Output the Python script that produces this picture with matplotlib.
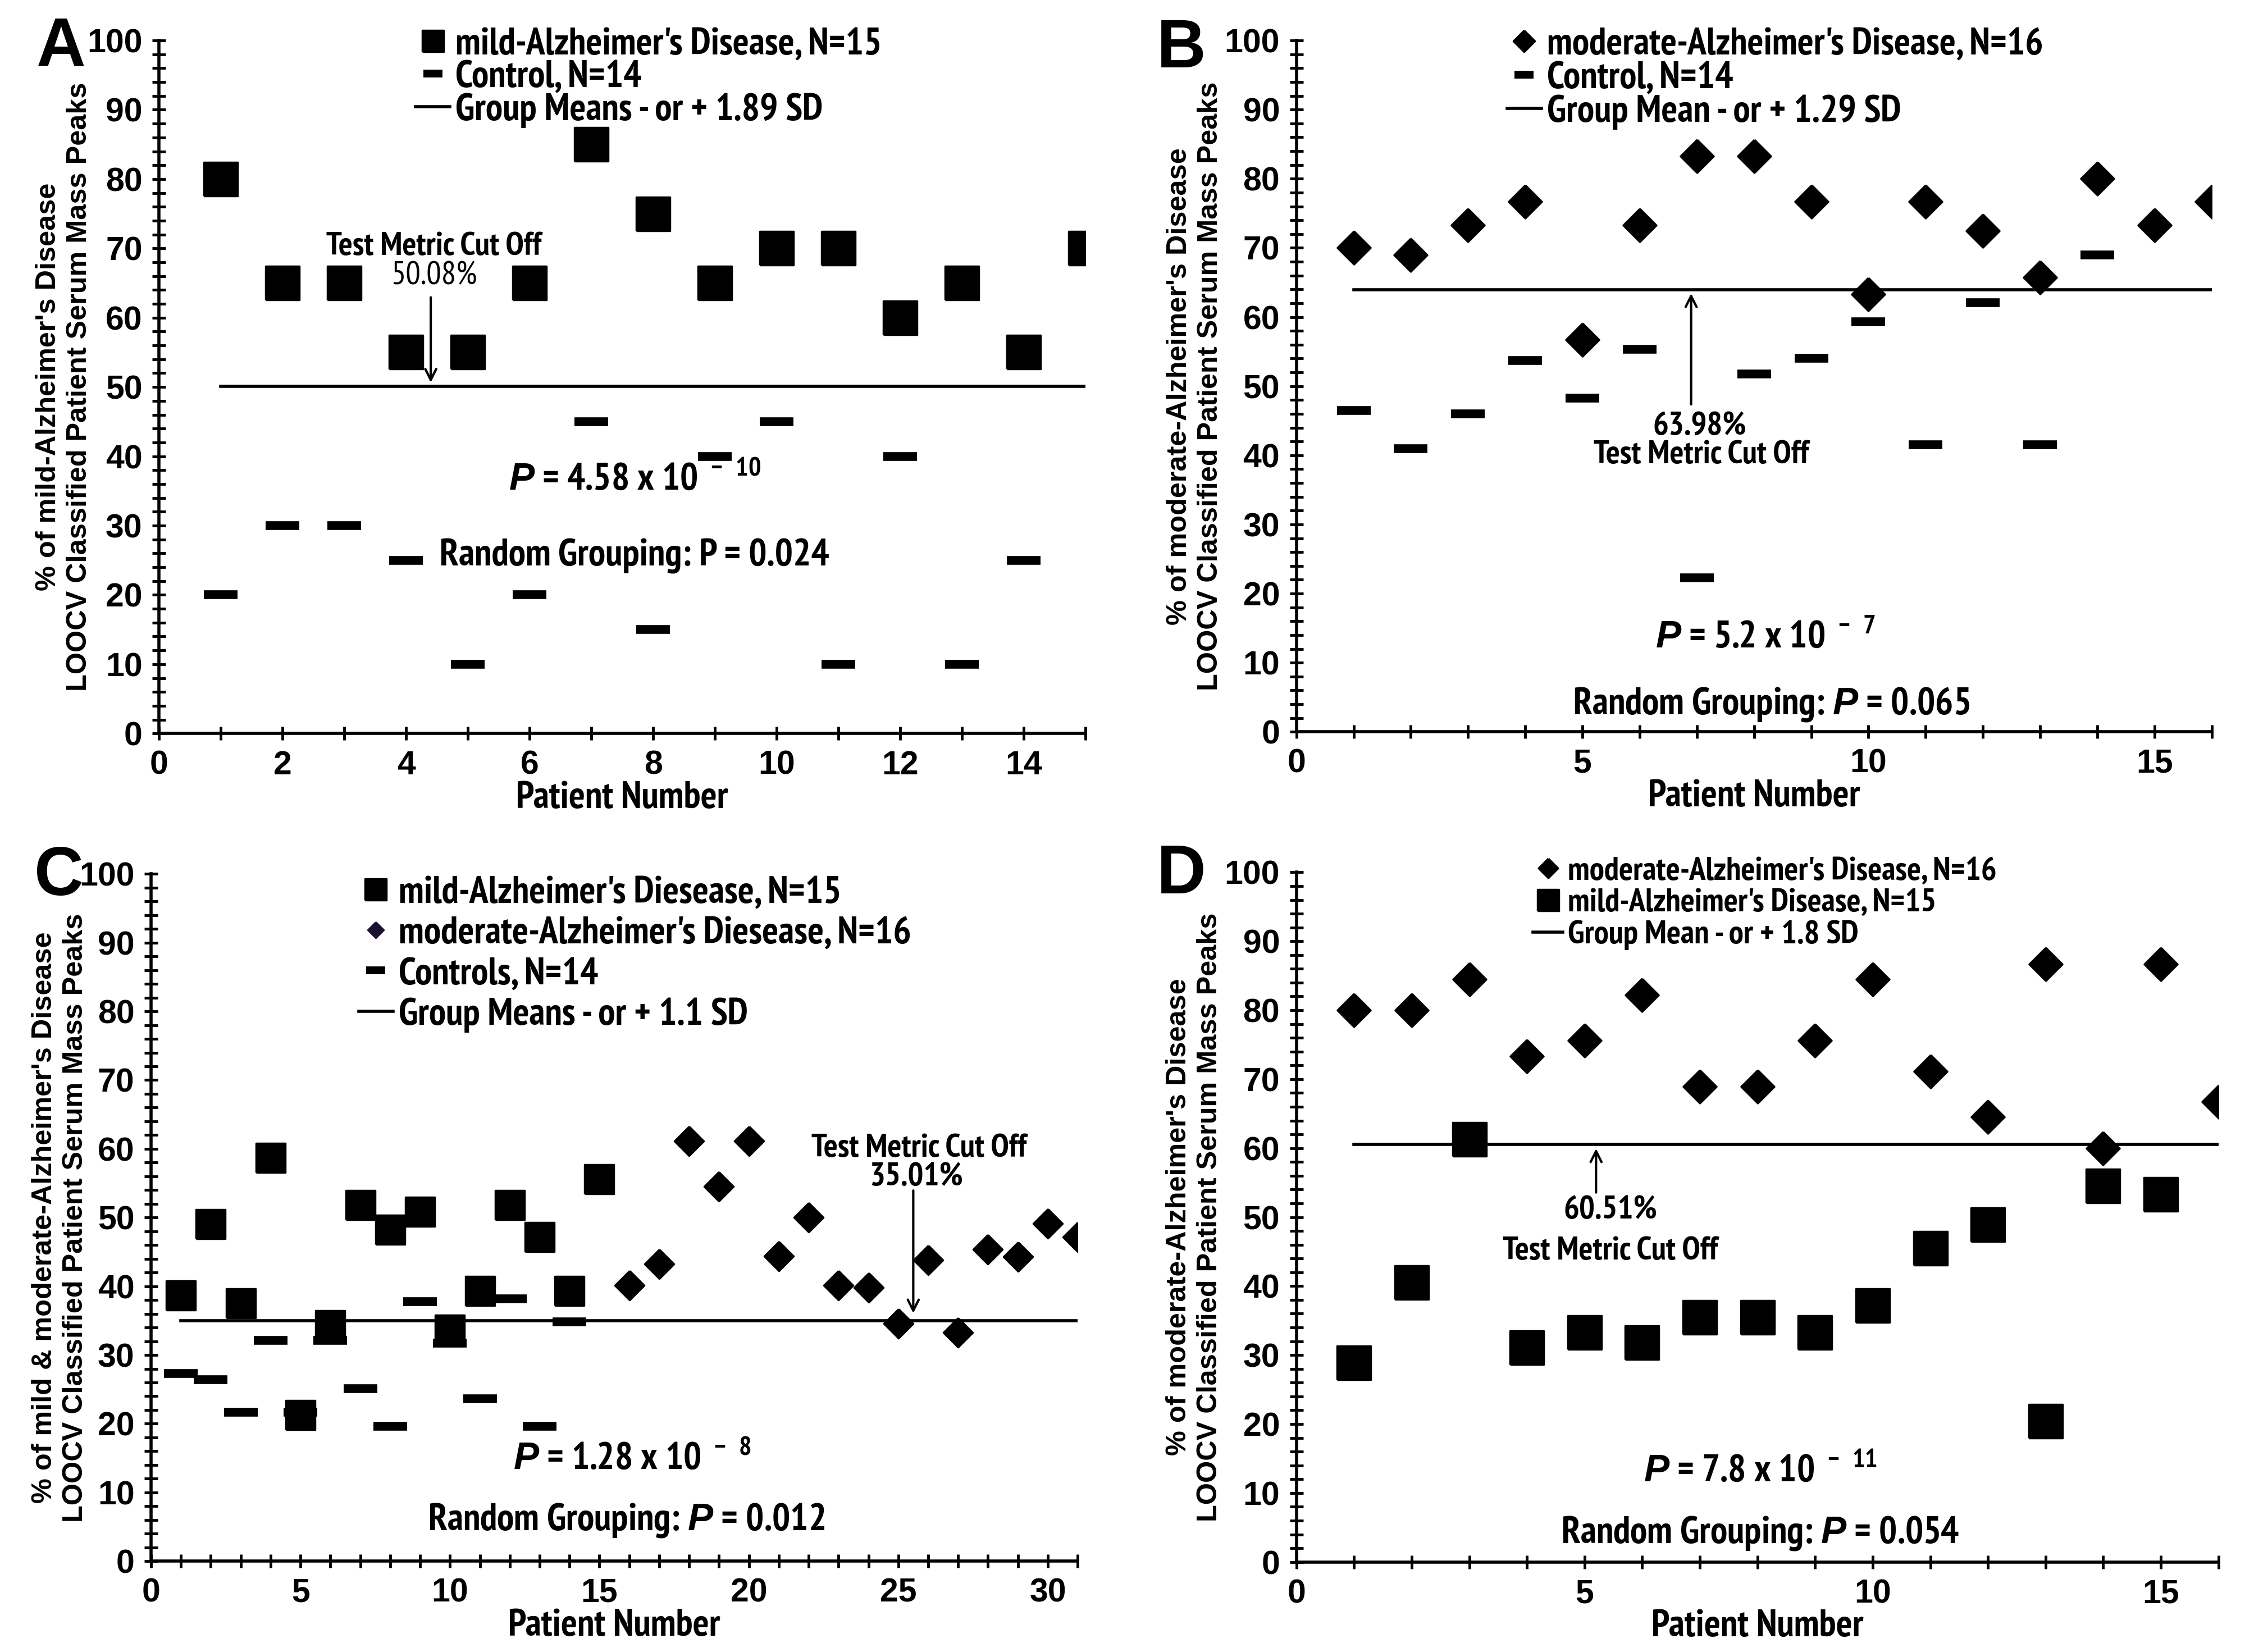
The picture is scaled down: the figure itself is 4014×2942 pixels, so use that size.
import matplotlib
matplotlib.use("Agg")
import matplotlib.pyplot as plt
from matplotlib import font_manager
from matplotlib.font_manager import FontProperties
from matplotlib.lines import Line2D
from matplotlib.textpath import TextPath
from matplotlib.ticker import MultipleLocator

# ---- data ----
A_mild = [80, 65, 65, 55, 55, 65, 85, 75, 65, 70, 70, 60, 65, 55, 70]
A_ctrl = [20, 30, 30, 25, 10, 20, 45, 15, 40, 45, 10, 40, 10, 25]
A_cut = 50.08

B_mod = [70, 69, 73.3, 76.7, 56.7, 73.3, 83.3, 83.3, 76.7, 63.3, 76.7, 72.5, 65.7, 80, 73.3, 76.7]
B_ctrl = [46.5, 41, 46, 53.7, 48.3, 55.3, 22.3, 51.8, 54, 59.3, 41.5, 62.1, 41.5, 69]
B_cut = 63.98

C_mild = [38.7, 49, 37.5, 58.7, 21.3, 34.3, 51.8, 48.2, 50.8, 33.7, 39.3, 51.8, 47.2, 39.3, 55.6]
C_mod = [40.1, 43.2, 61.1, 54.5, 61.1, 44.4, 50, 40.1, 39.8, 34.6, 43.8, 33.3, 45.4, 44.3, 49.1, 47.2]
C_ctrl = [27.3, 26.4, 21.7, 32.1, 21.7, 32.1, 25.1, 19.6, 37.8, 31.7, 23.6, 38.2, 19.6, 34.8]
C_cut = 35.01

D_mod = [80, 80, 84.5, 73.3, 75.6, 82.2, 68.9, 68.9, 75.6, 84.5, 71.1, 64.5, 86.7, 60, 86.7, 66.7]
D_mild = [28.9, 40.5, 61.3, 31.1, 33.3, 31.8, 35.5, 35.5, 33.3, 37.2, 45.5, 48.9, 20.4, 54.5, 53.3]
D_cut = 60.51


def pick_font(names):
    avail = {f.name for f in font_manager.fontManager.ttflist}
    for n in names:
        if n in avail:
            return n
    return "DejaVu Sans"


def find_condensed():
    """Bold condensed sans face, if the system has one (the figure uses an Arial Narrow look)."""
    good = []
    for f in font_manager.fontManager.ttflist:
        if f.style != "normal" or f.weight not in (700, "bold"):
            continue
        narrow = (f.stretch in ("condensed", "semi-condensed")
                  or "Narrow" in f.name or "Condensed" in f.name)
        if not narrow:
            continue
        if any(k in f.name for k in ("Mono", "Serif", "CJK", "Display")):
            continue
        if not any(k in f.name for k in ("Sans", "Roboto", "Narrow", "Lato", "Inter")):
            continue
        good.append(f)
    rank = {"condensed": 0, "semi-condensed": 1}
    good.sort(key=lambda f: (0 if "Narrow" in f.name else 1, rank.get(f.stretch, 0)))
    return good[0] if good else None


WIDE = pick_font(["Liberation Sans", "Arial", "DejaVu Sans"])
cond = find_condensed()
SAMPLE = "mild-Alzheimer's Disease, N=15"
if cond is not None:
    NARROW, STRETCH = cond.name, cond.stretch
    w_wide = TextPath((0, 0), SAMPLE, size=10,
                      prop=FontProperties(family=WIDE, weight="bold")).get_extents().width
    w_cond = TextPath((0, 0), SAMPLE, size=10,
                      prop=FontProperties(fname=cond.fname)).get_extents().width
    SCALE = min(max(w_wide / w_cond, 1.0), 1.3)
else:
    NARROW, STRETCH, SCALE = WIDE, "normal", 1.0

plt.rcParams["font.family"] = [NARROW, WIDE, "DejaVu Sans"]
plt.rcParams["font.stretch"] = STRETCH
plt.rcParams["font.weight"] = "bold"
plt.rcParams["axes.labelweight"] = "bold"
plt.rcParams["mathtext.fontset"] = "custom"
plt.rcParams["mathtext.rm"] = f"{NARROW}:bold:stretch={STRETCH}"
plt.rcParams["mathtext.it"] = f"{WIDE}:italic:bold"
plt.rcParams["mathtext.bf"] = f"{NARROW}:bold:stretch={STRETCH}"

FS = 15 * SCALE        # legend / annotation text
FS_SMALL = 13 * SCALE  # "Test Metric Cut Off" notes, legend in D
FS_TICK = 17

DIAMOND = [(0, 1), (1, 0), (0, -1), (-1, 0), (0, 1)]
SQUARE = [(-1, -1), (1, -1), (1, 1), (-1, 1), (-1, -1)]
DASH = dict(marker="_", markersize=17, markeredgewidth=4.5, color="black", linestyle="none")


def style_axes(ax, xmax, xmajor, ylab, ylab_x):
    for s in ["top", "right"]:
        ax.spines[s].set_visible(False)
    for s in ["left", "bottom"]:
        ax.spines[s].set_linewidth(1.6)
    ax.set_xlim(0, xmax)
    ax.set_ylim(0, 100)
    ax.xaxis.set_major_locator(MultipleLocator(xmajor))
    ax.xaxis.set_minor_locator(MultipleLocator(1))
    ax.yaxis.set_major_locator(MultipleLocator(10))
    ax.yaxis.set_minor_locator(MultipleLocator(2))
    ax.tick_params(which="both", direction="inout", length=7, width=1.4, labelsize=FS_TICK)
    ax.tick_params(axis="x", pad=5)
    ax.tick_params(axis="y", pad=5)
    for lab in ax.get_xticklabels() + ax.get_yticklabels():
        lab.set_fontfamily(WIDE)
        lab.set_fontstretch("normal")
    ax.set_xlabel("Patient Number", fontsize=FS, labelpad=0)
    ax.set_ylabel(ylab, fontsize=14.5, family=WIDE, fontweight="bold", fontstretch="normal",
                  linespacing=1.25)
    ax.yaxis.set_label_coords(ylab_x, 0.5)


def cut_line(ax, n, cut):
    ax.plot([1, n], [cut, cut], color="black", lw=1.6, zorder=1)


def arrow(ax, x, y0, y1):
    ax.annotate("", xy=(x, y1), xytext=(x, y0),
                arrowprops=dict(arrowstyle="->", lw=1.2, color="black", mutation_scale=14))


def add_legend(ax, handles, labels, x, y, fs, spacing):
    ax.legend(handles, labels, loc="upper left", bbox_to_anchor=(x, y), frameon=False,
              fontsize=fs, handlelength=0.9, handletextpad=0.15, labelspacing=spacing,
              borderpad=0.05, borderaxespad=0)


def h_marker(m, size, color="black"):
    return Line2D([], [], linestyle="none", marker=m, markersize=size, color=color)


h_dash = Line2D([], [], linestyle="none", marker="_", markersize=10, markeredgewidth=4, color="black")
h_line = Line2D([], [], color="black", lw=1.6)

fig = plt.figure(figsize=(4015 / 250, 2942 / 250), dpi=250)
axA = fig.add_axes([0.0705, 0.556, 0.411, 0.4195])
axB = fig.add_axes([0.575, 0.557, 0.406, 0.4185])
axC = fig.add_axes([0.067, 0.055, 0.411, 0.416])
axD = fig.add_axes([0.575, 0.0545, 0.409, 0.4175])

# ---- A ----
ax = axA
style_axes(ax, 15, 2, "% of mild-Alzheimer's Disease\nLOOCV Classified Patient Serum Mass Peaks", -0.072)
xa = list(range(1, len(A_mild) + 1))
xc = list(range(1, len(A_ctrl) + 1))
cut_line(ax, xa[-1], A_cut)
ax.plot(xa, A_mild, linestyle="none", marker=SQUARE, markersize=17.5, color="black")
ax.plot(xc, A_ctrl, **DASH)
arrow(ax, 4.4, 63.5, A_cut)
ax.text(4.45, 70.2, "Test Metric Cut Off", ha="center", va="center", fontsize=FS_SMALL)
ax.text(4.45, 66.0, f"{A_cut:.2f}%", ha="center", va="center", fontsize=FS_SMALL, fontweight="normal")
ax.text(7.7, 36.7, r"$P$ = 4.58 x 10$^{\ -\ 10}$", ha="center", va="center", fontsize=FS)
ax.text(7.7, 25.6, "Random Grouping: P = 0.024", ha="center", va="center", fontsize=FS)
add_legend(ax, [h_marker(SQUARE, 11), h_dash, h_line],
           ["mild-Alzheimer's Disease, N=15", "Control, N=14", "Group Means - or + 1.89 SD"],
           0.275, 1.022, FS, -0.05)

# ---- B ----
ax = axB
style_axes(ax, 16, 5, "% of moderate-Alzheimer's Disease\nLOOCV Classified Patient Serum Mass Peaks", -0.08)
xb = list(range(1, len(B_mod) + 1))
xc = list(range(1, len(B_ctrl) + 1))
cut_line(ax, xb[-1], B_cut)
ax.plot(xb, B_mod, linestyle="none", marker=DIAMOND, markersize=17, color="black")
ax.plot(xc, B_ctrl, **DASH)
arrow(ax, 6.9, 46.8, B_cut)
ax.text(7.05, 44.2, f"{B_cut:.2f}%", ha="center", va="center", fontsize=FS_SMALL)
ax.text(7.08, 40.0, "Test Metric Cut Off", ha="center", va="center", fontsize=FS_SMALL)
ax.text(8.2, 13.6, r"$P$ = 5.2 x 10$^{\ -\ 7}$", ha="center", va="center", fontsize=FS)
ax.text(8.3, 4.0, r"Random Grouping: $P$ = 0.065", ha="center", va="center", fontsize=FS)
add_legend(ax, [h_marker(DIAMOND, 11), h_dash, h_line],
           ["moderate-Alzheimer's Disease, N=16", "Control, N=14", "Group Mean - or + 1.29 SD"],
           0.228, 1.022, FS, -0.03)

# ---- C ----
ax = axC
style_axes(ax, 31, 5, "% of mild & moderate-Alzheimer's Disease\nLOOCV Classified Patient Serum Mass Peaks", -0.068)
xm = list(range(1, len(C_mild) + 1))
xd = list(range(len(C_mild) + 1, len(C_mild) + len(C_mod) + 1))
xc = list(range(1, len(C_ctrl) + 1))
cut_line(ax, xd[-1], C_cut)
ax.plot(xm, C_mild, linestyle="none", marker=SQUARE, markersize=15, color="black")
ax.plot(xd, C_mod, linestyle="none", marker=DIAMOND, markersize=15, color="black")
ax.plot(xc, C_ctrl, **DASH)
arrow(ax, 25.5, 54.5, C_cut + 0.5)
ax.text(25.7, 60.0, "Test Metric Cut Off", ha="center", va="center", fontsize=FS_SMALL)
ax.text(25.6, 55.9, f"{C_cut:.2f}%", ha="center", va="center", fontsize=FS_SMALL)
ax.text(16.1, 14.9, r"$P$ = 1.28 x 10$^{\ -\ 8}$", ha="center", va="center", fontsize=FS)
ax.text(15.9, 5.9, r"Random Grouping: $P$ = 0.012", ha="center", va="center", fontsize=FS)
add_legend(ax, [h_marker(SQUARE, 11), h_marker(DIAMOND, 8, "#1a1030"), h_dash, h_line],
           ["mild-Alzheimer's Diesease, N=15", "moderate-Alzheimer's Diesease, N=16",
            "Controls, N=14", "Group Means - or + 1.1 SD"],
           0.222, 1.0, FS, 0.15)

# ---- D ----
ax = axD
style_axes(ax, 16, 5, "% of moderate-Alzheimer's Disease\nLOOCV Classified Patient Serum Mass Peaks", -0.08)
xd = list(range(1, len(D_mod) + 1))
xm = list(range(1, len(D_mild) + 1))
cut_line(ax, xd[-1], D_cut)
ax.plot(xd, D_mod, linestyle="none", marker=DIAMOND, markersize=17, color="black")
ax.plot(xm, D_mild, linestyle="none", marker=SQUARE, markersize=17, color="black")
arrow(ax, 5.2, 53.0, D_cut)
ax.text(5.45, 51.0, f"{D_cut:.2f}%", ha="center", va="center", fontsize=FS_SMALL)
ax.text(5.45, 45.0, "Test Metric Cut Off", ha="center", va="center", fontsize=FS_SMALL)
ax.text(8.05, 13.2, r"$P$ = 7.8 x 10$^{\ -\ 11}$", ha="center", va="center", fontsize=FS)
ax.text(8.05, 4.2, r"Random Grouping: $P$ = 0.054", ha="center", va="center", fontsize=FS)
add_legend(ax, [h_marker(DIAMOND, 10), h_marker(SQUARE, 11), h_line],
           ["moderate-Alzheimer's Disease, N=16", "mild-Alzheimer's Disease, N=15",
            "Group Mean - or + 1.8 SD"],
           0.255, 1.025, FS_SMALL, 0.06)

# panel letters
for x, y, s in [(0.027, 0.971, "A"), (0.524, 0.970, "B"), (0.026, 0.469, "C"), (0.524, 0.470, "D")]:
    fig.text(x, y, s, ha="center", va="center", fontsize=35, family=WIDE, fontweight="bold",
             fontstretch="normal")

fig.savefig("out.png", dpi=250)
